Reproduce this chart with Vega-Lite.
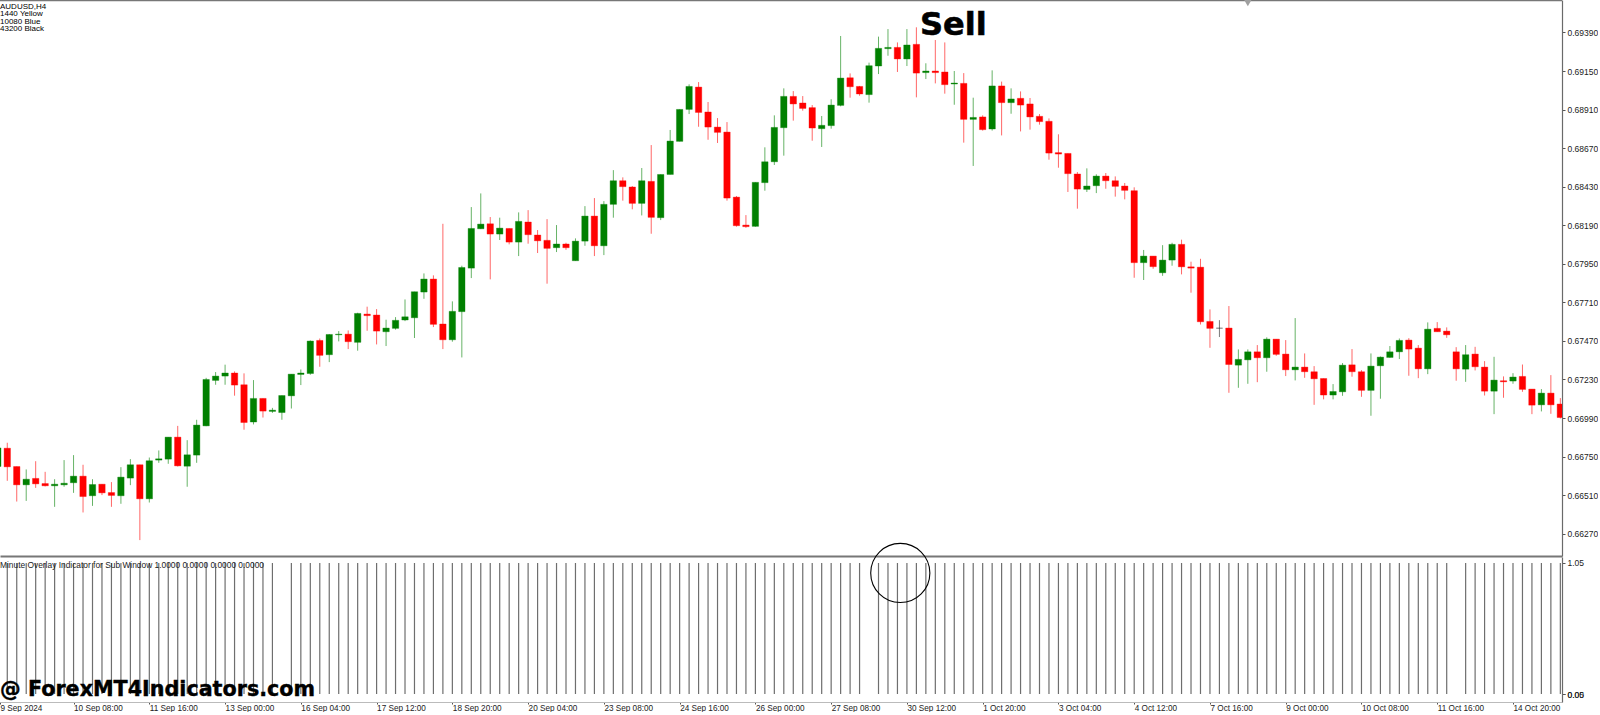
{
  "$schema": "https://vega.github.io/schema/vega-lite/v6.json",
  "background": "white",
  "padding": {"left": -2, "top": -2, "right": 0, "bottom": 0},
  "spacing": 1,
  "bounds": "flush",
  "config": {
    "view": {"stroke": null},
    "font": "Liberation Sans",
    "axis": {"grid": false, "title": null}
  },
  "datasets": {
    "candles": [
      {"bar":0,"open":0.66688,"high":0.66830,"low":0.66670,"close":0.66804,"overlay":1.05},
      {"bar":1,"open":0.66802,"high":0.66836,"low":0.66599,"close":0.66686,"overlay":1.05},
      {"bar":2,"open":0.66688,"high":0.66688,"low":0.66470,"close":0.66574,"overlay":1.05},
      {"bar":3,"open":0.66574,"high":0.66670,"low":0.66474,"close":0.66609,"overlay":1.05},
      {"bar":4,"open":0.66614,"high":0.66721,"low":0.66555,"close":0.66580,"overlay":1.05},
      {"bar":5,"open":0.66582,"high":0.66655,"low":0.66564,"close":0.66568,"overlay":1.05},
      {"bar":6,"open":0.66568,"high":0.66609,"low":0.66437,"close":0.66578,"overlay":1.05},
      {"bar":7,"open":0.66574,"high":0.66728,"low":0.66562,"close":0.66584,"overlay":1.05},
      {"bar":8,"open":0.66587,"high":0.66759,"low":0.66524,"close":0.66628,"overlay":1.05},
      {"bar":9,"open":0.66628,"high":0.66699,"low":0.66402,"close":0.66501,"overlay":1.05},
      {"bar":10,"open":0.66506,"high":0.66609,"low":0.66443,"close":0.66576,"overlay":1.05},
      {"bar":11,"open":0.66578,"high":0.66578,"low":0.66510,"close":0.66524,"overlay":1.05},
      {"bar":12,"open":0.66526,"high":0.66591,"low":0.66437,"close":0.66508,"overlay":1.05},
      {"bar":13,"open":0.66506,"high":0.66684,"low":0.66456,"close":0.66622,"overlay":1.05},
      {"bar":14,"open":0.66616,"high":0.66734,"low":0.66572,"close":0.66699,"overlay":1.05},
      {"bar":15,"open":0.66699,"high":0.66699,"low":0.66230,"close":0.66487,"overlay":1.05},
      {"bar":16,"open":0.66487,"high":0.66744,"low":0.66464,"close":0.66724,"overlay":1.05},
      {"bar":17,"open":0.66728,"high":0.66788,"low":0.66711,"close":0.66736,"overlay":1.05},
      {"bar":18,"open":0.66734,"high":0.66871,"low":0.66705,"close":0.66871,"overlay":1.05},
      {"bar":19,"open":0.66871,"high":0.66941,"low":0.66688,"close":0.66692,"overlay":1.05},
      {"bar":20,"open":0.66690,"high":0.66852,"low":0.66562,"close":0.66761,"overlay":1.05},
      {"bar":21,"open":0.66759,"high":0.66979,"low":0.66711,"close":0.66946,"overlay":1.05},
      {"bar":22,"open":0.66941,"high":0.67240,"low":0.66939,"close":0.67230,"overlay":1.05},
      {"bar":23,"open":0.67224,"high":0.67276,"low":0.67197,"close":0.67251,"overlay":1.05},
      {"bar":24,"open":0.67251,"high":0.67322,"low":0.67197,"close":0.67270,"overlay":1.05},
      {"bar":25,"open":0.67270,"high":0.67280,"low":0.67129,"close":0.67195,"overlay":1.05},
      {"bar":26,"open":0.67197,"high":0.67268,"low":0.66917,"close":0.66962,"overlay":1.05},
      {"bar":27,"open":0.66965,"high":0.67226,"low":0.66950,"close":0.67112,"overlay":1.05},
      {"bar":28,"open":0.67112,"high":0.67112,"low":0.66993,"close":0.67033,"overlay":1.05},
      {"bar":29,"open":0.67031,"high":0.67053,"low":0.67022,"close":0.67039,"overlay":1.05},
      {"bar":30,"open":0.67024,"high":0.67130,"low":0.66979,"close":0.67130,"overlay":0},
      {"bar":31,"open":0.67128,"high":0.67263,"low":0.67049,"close":0.67263,"overlay":1.05},
      {"bar":32,"open":0.67261,"high":0.67292,"low":0.67195,"close":0.67270,"overlay":1.05},
      {"bar":33,"open":0.67267,"high":0.67473,"low":0.67259,"close":0.67469,"overlay":1.05},
      {"bar":34,"open":0.67473,"high":0.67485,"low":0.67309,"close":0.67380,"overlay":1.05},
      {"bar":35,"open":0.67384,"high":0.67512,"low":0.67338,"close":0.67510,"overlay":1.05},
      {"bar":36,"open":0.67508,"high":0.67531,"low":0.67467,"close":0.67512,"overlay":1.05},
      {"bar":37,"open":0.67512,"high":0.67535,"low":0.67419,"close":0.67465,"overlay":1.05},
      {"bar":38,"open":0.67461,"high":0.67645,"low":0.67409,"close":0.67641,"overlay":1.05},
      {"bar":39,"open":0.67637,"high":0.67683,"low":0.67533,"close":0.67627,"overlay":1.05},
      {"bar":40,"open":0.67631,"high":0.67668,"low":0.67448,"close":0.67531,"overlay":1.05},
      {"bar":41,"open":0.67527,"high":0.67602,"low":0.67438,"close":0.67550,"overlay":1.05},
      {"bar":42,"open":0.67548,"high":0.67618,"low":0.67540,"close":0.67598,"overlay":1.05},
      {"bar":43,"open":0.67600,"high":0.67728,"low":0.67593,"close":0.67620,"overlay":1.05},
      {"bar":44,"open":0.67614,"high":0.67776,"low":0.67488,"close":0.67776,"overlay":1.05},
      {"bar":45,"open":0.67774,"high":0.67890,"low":0.67732,"close":0.67855,"overlay":1.05},
      {"bar":46,"open":0.67855,"high":0.67878,"low":0.67556,"close":0.67573,"overlay":1.05},
      {"bar":47,"open":0.67575,"high":0.68199,"low":0.67419,"close":0.67477,"overlay":1.05},
      {"bar":48,"open":0.67477,"high":0.67716,"low":0.67465,"close":0.67654,"overlay":1.05},
      {"bar":49,"open":0.67652,"high":0.67938,"low":0.67367,"close":0.67927,"overlay":1.05},
      {"bar":50,"open":0.67923,"high":0.68303,"low":0.67861,"close":0.68170,"overlay":1.05},
      {"bar":51,"open":0.68168,"high":0.68388,"low":0.68166,"close":0.68197,"overlay":1.05},
      {"bar":52,"open":0.68199,"high":0.68241,"low":0.67853,"close":0.68135,"overlay":1.05},
      {"bar":53,"open":0.68135,"high":0.68237,"low":0.68098,"close":0.68172,"overlay":1.05},
      {"bar":54,"open":0.68170,"high":0.68170,"low":0.68071,"close":0.68085,"overlay":1.05},
      {"bar":55,"open":0.68085,"high":0.68270,"low":0.67998,"close":0.68214,"overlay":1.05},
      {"bar":56,"open":0.68210,"high":0.68284,"low":0.68075,"close":0.68131,"overlay":1.05},
      {"bar":57,"open":0.68129,"high":0.68160,"low":0.68017,"close":0.68093,"overlay":1.05},
      {"bar":58,"open":0.68096,"high":0.68228,"low":0.67826,"close":0.68046,"overlay":1.05},
      {"bar":59,"open":0.68050,"high":0.68191,"low":0.68023,"close":0.68073,"overlay":1.05},
      {"bar":60,"open":0.68073,"high":0.68081,"low":0.68037,"close":0.68050,"overlay":1.05},
      {"bar":61,"open":0.67969,"high":0.68108,"low":0.67969,"close":0.68091,"overlay":1.05},
      {"bar":62,"open":0.68091,"high":0.68309,"low":0.68062,"close":0.68247,"overlay":1.05},
      {"bar":63,"open":0.68247,"high":0.68359,"low":0.67998,"close":0.68062,"overlay":1.05},
      {"bar":64,"open":0.68062,"high":0.68340,"low":0.68004,"close":0.68320,"overlay":1.05},
      {"bar":65,"open":0.68320,"high":0.68533,"low":0.68237,"close":0.68467,"overlay":1.05},
      {"bar":66,"open":0.68467,"high":0.68488,"low":0.68343,"close":0.68430,"overlay":1.05},
      {"bar":67,"open":0.68428,"high":0.68434,"low":0.68289,"close":0.68326,"overlay":1.05},
      {"bar":68,"open":0.68326,"high":0.68546,"low":0.68251,"close":0.68467,"overlay":1.05},
      {"bar":69,"open":0.68463,"high":0.68689,"low":0.68137,"close":0.68239,"overlay":1.05},
      {"bar":70,"open":0.68237,"high":0.68506,"low":0.68222,"close":0.68506,"overlay":1.05},
      {"bar":71,"open":0.68506,"high":0.68783,"low":0.68506,"close":0.68714,"overlay":1.05},
      {"bar":72,"open":0.68712,"high":0.68911,"low":0.68712,"close":0.68911,"overlay":1.05},
      {"bar":73,"open":0.68911,"high":0.69067,"low":0.68882,"close":0.69054,"overlay":1.05},
      {"bar":74,"open":0.69050,"high":0.69081,"low":0.68803,"close":0.68892,"overlay":1.05},
      {"bar":75,"open":0.68895,"high":0.68957,"low":0.68722,"close":0.68801,"overlay":1.05},
      {"bar":76,"open":0.68801,"high":0.68857,"low":0.68702,"close":0.68768,"overlay":1.05},
      {"bar":77,"open":0.68770,"high":0.68832,"low":0.68343,"close":0.68359,"overlay":1.05},
      {"bar":78,"open":0.68365,"high":0.68372,"low":0.68181,"close":0.68187,"overlay":1.05},
      {"bar":79,"open":0.68191,"high":0.68253,"low":0.68174,"close":0.68181,"overlay":1.05},
      {"bar":80,"open":0.68183,"high":0.68457,"low":0.68181,"close":0.68457,"overlay":1.05},
      {"bar":81,"open":0.68455,"high":0.68675,"low":0.68405,"close":0.68585,"overlay":1.05},
      {"bar":82,"open":0.68585,"high":0.68874,"low":0.68565,"close":0.68799,"overlay":1.05},
      {"bar":83,"open":0.68797,"high":0.69042,"low":0.68623,"close":0.68992,"overlay":1.05},
      {"bar":84,"open":0.68992,"high":0.69025,"low":0.68841,"close":0.68945,"overlay":1.05},
      {"bar":85,"open":0.68951,"high":0.68994,"low":0.68903,"close":0.68917,"overlay":1.05},
      {"bar":86,"open":0.68922,"high":0.68938,"low":0.68716,"close":0.68795,"overlay":1.05},
      {"bar":87,"open":0.68791,"high":0.68870,"low":0.68677,"close":0.68812,"overlay":1.05},
      {"bar":88,"open":0.68810,"high":0.68974,"low":0.68791,"close":0.68938,"overlay":1.05},
      {"bar":89,"open":0.68936,"high":0.69368,"low":0.68930,"close":0.69106,"overlay":1.05},
      {"bar":90,"open":0.69108,"high":0.69135,"low":0.68984,"close":0.69052,"overlay":1.05},
      {"bar":91,"open":0.69054,"high":0.69057,"low":0.68996,"close":0.69007,"overlay":1.05},
      {"bar":92,"open":0.69003,"high":0.69202,"low":0.68953,"close":0.69183,"overlay":0},
      {"bar":93,"open":0.69181,"high":0.69364,"low":0.69131,"close":0.69291,"overlay":1.05},
      {"bar":94,"open":0.69289,"high":0.69411,"low":0.69245,"close":0.69297,"overlay":1.05},
      {"bar":95,"open":0.69297,"high":0.69328,"low":0.69144,"close":0.69225,"overlay":1.05},
      {"bar":96,"open":0.69225,"high":0.69411,"low":0.69181,"close":0.69312,"overlay":1.05},
      {"bar":97,"open":0.69316,"high":0.69422,"low":0.68986,"close":0.69137,"overlay":1.05},
      {"bar":98,"open":0.69140,"high":0.69198,"low":0.69100,"close":0.69150,"overlay":1.05},
      {"bar":99,"open":0.69150,"high":0.69343,"low":0.69073,"close":0.69140,"overlay":1.05},
      {"bar":100,"open":0.69144,"high":0.69328,"low":0.69009,"close":0.69065,"overlay":1.05},
      {"bar":101,"open":0.69069,"high":0.69150,"low":0.68940,"close":0.69075,"overlay":1.05},
      {"bar":102,"open":0.69073,"high":0.69137,"low":0.68704,"close":0.68849,"overlay":1.05},
      {"bar":103,"open":0.68849,"high":0.68984,"low":0.68559,"close":0.68861,"overlay":1.05},
      {"bar":104,"open":0.68864,"high":0.68874,"low":0.68779,"close":0.68785,"overlay":1.05},
      {"bar":105,"open":0.68789,"high":0.69154,"low":0.68779,"close":0.69057,"overlay":1.05},
      {"bar":106,"open":0.69057,"high":0.69084,"low":0.68749,"close":0.68953,"overlay":1.05},
      {"bar":107,"open":0.68953,"high":0.69042,"low":0.68884,"close":0.68976,"overlay":1.05},
      {"bar":108,"open":0.68980,"high":0.69023,"low":0.68774,"close":0.68938,"overlay":1.05},
      {"bar":109,"open":0.68945,"high":0.68982,"low":0.68785,"close":0.68864,"overlay":1.05},
      {"bar":110,"open":0.68868,"high":0.68882,"low":0.68816,"close":0.68835,"overlay":1.05},
      {"bar":111,"open":0.68837,"high":0.68855,"low":0.68598,"close":0.68639,"overlay":1.05},
      {"bar":112,"open":0.68642,"high":0.68756,"low":0.68548,"close":0.68633,"overlay":1.05},
      {"bar":113,"open":0.68637,"high":0.68637,"low":0.68397,"close":0.68511,"overlay":1.05},
      {"bar":114,"open":0.68509,"high":0.68521,"low":0.68293,"close":0.68415,"overlay":1.05},
      {"bar":115,"open":0.68413,"high":0.68544,"low":0.68397,"close":0.68434,"overlay":1.05},
      {"bar":116,"open":0.68436,"high":0.68507,"low":0.68390,"close":0.68496,"overlay":1.05},
      {"bar":117,"open":0.68496,"high":0.68515,"low":0.68417,"close":0.68467,"overlay":1.05},
      {"bar":118,"open":0.68467,"high":0.68494,"low":0.68368,"close":0.68432,"overlay":1.05},
      {"bar":119,"open":0.68434,"high":0.68453,"low":0.68351,"close":0.68407,"overlay":1.05},
      {"bar":120,"open":0.68405,"high":0.68426,"low":0.67863,"close":0.67957,"overlay":1.05},
      {"bar":121,"open":0.67957,"high":0.68036,"low":0.67849,"close":0.67998,"overlay":1.05},
      {"bar":122,"open":0.67998,"high":0.67998,"low":0.67919,"close":0.67932,"overlay":1.05},
      {"bar":123,"open":0.67894,"high":0.68066,"low":0.67875,"close":0.67973,"overlay":1.05},
      {"bar":124,"open":0.67973,"high":0.68081,"low":0.67938,"close":0.68071,"overlay":1.05},
      {"bar":125,"open":0.68071,"high":0.68100,"low":0.67884,"close":0.67931,"overlay":1.05},
      {"bar":126,"open":0.67931,"high":0.67963,"low":0.67770,"close":0.67923,"overlay":1.05},
      {"bar":127,"open":0.67929,"high":0.67981,"low":0.67572,"close":0.67589,"overlay":1.05},
      {"bar":128,"open":0.67591,"high":0.67666,"low":0.67427,"close":0.67548,"overlay":1.05},
      {"bar":129,"open":0.67549,"high":0.67599,"low":0.67494,"close":0.67549,"overlay":1.05},
      {"bar":130,"open":0.67550,"high":0.67687,"low":0.67147,"close":0.67323,"overlay":1.05},
      {"bar":131,"open":0.67319,"high":0.67417,"low":0.67178,"close":0.67355,"overlay":1.05},
      {"bar":132,"open":0.67352,"high":0.67417,"low":0.67203,"close":0.67402,"overlay":1.05},
      {"bar":133,"open":0.67402,"high":0.67444,"low":0.67213,"close":0.67365,"overlay":1.05},
      {"bar":134,"open":0.67365,"high":0.67492,"low":0.67278,"close":0.67481,"overlay":1.05},
      {"bar":135,"open":0.67481,"high":0.67481,"low":0.67377,"close":0.67386,"overlay":1.05},
      {"bar":136,"open":0.67388,"high":0.67475,"low":0.67251,"close":0.67290,"overlay":1.05},
      {"bar":137,"open":0.67290,"high":0.67612,"low":0.67224,"close":0.67307,"overlay":1.05},
      {"bar":138,"open":0.67307,"high":0.67392,"low":0.67240,"close":0.67278,"overlay":1.05},
      {"bar":139,"open":0.67278,"high":0.67313,"low":0.67072,"close":0.67234,"overlay":1.05},
      {"bar":140,"open":0.67236,"high":0.67236,"low":0.67106,"close":0.67133,"overlay":1.05},
      {"bar":141,"open":0.67133,"high":0.67201,"low":0.67106,"close":0.67155,"overlay":1.05},
      {"bar":142,"open":0.67153,"high":0.67332,"low":0.67128,"close":0.67319,"overlay":1.05},
      {"bar":143,"open":0.67321,"high":0.67419,"low":0.67247,"close":0.67278,"overlay":1.05},
      {"bar":144,"open":0.67278,"high":0.67288,"low":0.67122,"close":0.67162,"overlay":1.05},
      {"bar":145,"open":0.67162,"high":0.67392,"low":0.67004,"close":0.67313,"overlay":1.05},
      {"bar":146,"open":0.67315,"high":0.67373,"low":0.67110,"close":0.67369,"overlay":1.05},
      {"bar":147,"open":0.67367,"high":0.67438,"low":0.67365,"close":0.67402,"overlay":1.05},
      {"bar":148,"open":0.67402,"high":0.67485,"low":0.67357,"close":0.67473,"overlay":1.05},
      {"bar":149,"open":0.67475,"high":0.67487,"low":0.67253,"close":0.67419,"overlay":1.05},
      {"bar":150,"open":0.67425,"high":0.67444,"low":0.67238,"close":0.67296,"overlay":1.05},
      {"bar":151,"open":0.67296,"high":0.67585,"low":0.67263,"close":0.67543,"overlay":1.05},
      {"bar":152,"open":0.67548,"high":0.67587,"low":0.67527,"close":0.67527,"overlay":1.05},
      {"bar":153,"open":0.67531,"high":0.67554,"low":0.67489,"close":0.67508,"overlay":1.05},
      {"bar":154,"open":0.67402,"high":0.67431,"low":0.67222,"close":0.67296,"overlay":0},
      {"bar":155,"open":0.67294,"high":0.67444,"low":0.67215,"close":0.67384,"overlay":1.05},
      {"bar":156,"open":0.67388,"high":0.67433,"low":0.67286,"close":0.67309,"overlay":1.05},
      {"bar":157,"open":0.67307,"high":0.67344,"low":0.67130,"close":0.67157,"overlay":1.05},
      {"bar":158,"open":0.67157,"high":0.67371,"low":0.67014,"close":0.67226,"overlay":1.05},
      {"bar":159,"open":0.67222,"high":0.67249,"low":0.67116,"close":0.67215,"overlay":1.05},
      {"bar":160,"open":0.67220,"high":0.67269,"low":0.67203,"close":0.67245,"overlay":1.05},
      {"bar":161,"open":0.67249,"high":0.67323,"low":0.67153,"close":0.67168,"overlay":1.05},
      {"bar":162,"open":0.67170,"high":0.67170,"low":0.67014,"close":0.67070,"overlay":1.05},
      {"bar":163,"open":0.67072,"high":0.67170,"low":0.67031,"close":0.67145,"overlay":1.05},
      {"bar":164,"open":0.67145,"high":0.67257,"low":0.67016,"close":0.67072,"overlay":1.05},
      {"bar":165,"open":0.67077,"high":0.67114,"low":0.66987,"close":0.66993,"overlay":1.05}
    ],
    "infoLines": [
      {"bar":0.232,"price":0.69548,"label":"AUDUSD,H4"},
      {"bar":0.232,"price":0.69502,"label":"1440 Yellow"},
      {"bar":0.232,"price":0.69457,"label":"10080 Blue"},
      {"bar":0.232,"price":0.69411,"label":"43200 Black"}
    ]
  },
  "vconcat": [
    {
      "width": 1562,
      "height": 556,
      "data": {"name": "candles"},
      "encoding": {
        "x": {
          "field": "bar",
          "type": "quantitative",
          "scale": {"domain": [0.232, 165.175], "nice": false, "zero": false, "padding": 0},
          "axis": {"labels": false, "ticks": false, "domainColor": "#777777", "domainWidth": 2}
        }
      },
      "layer": [
        {
          "mark": {"type": "rule", "strokeWidth": 1, "opacity": 0.6, "clip": true},
          "encoding": {
            "y": {
              "field": "low",
              "type": "quantitative",
              "scale": {"domain": [0.66131, 0.69592], "nice": false, "zero": false},
              "axis": {
                "orient": "right",
                "values": [0.6627, 0.6651, 0.6675, 0.6699, 0.6723, 0.6747, 0.6771, 0.6795, 0.6819, 0.6843, 0.6867, 0.6891, 0.6915, 0.6939],
                "format": ".5f",
                "tickSize": 3,
                "tickColor": "#555555",
                "domainColor": "#6a6a6a",
                "domainWidth": 1.2,
                "labelColor": "#222222",
                "labelFontSize": 8.5,
                "labelPadding": 2,
                "labelOverlap": false,
                "labelBound": false,
                "labelFlush": false
              }
            },
            "y2": {"field": "high"},
            "color": {
              "condition": [
                {"test": "datum.close > datum.open", "value": "#008000"},
                {"test": "datum.close < datum.open", "value": "#ff0000"}
              ],
              "value": "#222222"
            }
          }
        },
        {
          "mark": {"type": "bar", "size": 6.4, "clip": true, "strokeWidth": 0.8, "strokeOpacity": 0.45},
          "encoding": {
            "y": {"field": "open", "type": "quantitative"},
            "y2": {"field": "close"},
            "color": {
              "condition": [
                {"test": "datum.close > datum.open", "value": "#008000"},
                {"test": "datum.close < datum.open", "value": "#ff0000"}
              ],
              "value": "#222222"
            },
            "stroke": {
              "condition": [
                {"test": "datum.close > datum.open", "value": "#008000"},
                {"test": "datum.close < datum.open", "value": "#ff0000"}
              ],
              "value": "#222222"
            }
          }
        },
        {
          "data": {"values": [{"price": 0.69592}]},
          "mark": {"type": "rule", "color": "#777777", "strokeWidth": 2.4},
          "encoding": {"x": null, "y": {"field": "price", "type": "quantitative"}}
        },
        {
          "data": {"values": [{"bar": 132, "price": 0.69574}]},
          "mark": {"type": "point", "shape": "triangle-down", "size": 60, "filled": true, "color": "#a0a0a0", "opacity": 1},
          "encoding": {
            "x": {"field": "bar", "type": "quantitative", "scale": {"domain": [0.232, 165.175], "nice": false, "zero": false, "padding": 0}},
            "y": {"field": "price", "type": "quantitative"}
          }
        },
        {
          "data": {"name": "infoLines"},
          "mark": {"type": "text", "align": "left", "baseline": "middle", "fontSize": 8, "color": "#000000"},
          "encoding": {
            "x": {"field": "bar", "type": "quantitative", "scale": {"domain": [0.232, 165.175], "nice": false, "zero": false, "padding": 0}},
            "y": {"field": "price", "type": "quantitative"},
            "text": {"field": "label"}
          }
        },
        {
          "data": {"values": [{"bar": 100.9, "price": 0.69439, "label": "Sell"}]},
          "mark": {"type": "text", "align": "center", "baseline": "middle", "font": "DejaVu Sans", "fontWeight": "bold", "fontSize": 32, "color": "#000000", "stroke": "#000000", "strokeWidth": 0.6},
          "encoding": {
            "x": {"field": "bar", "type": "quantitative", "scale": {"domain": [0.232, 165.175], "nice": false, "zero": false, "padding": 0}},
            "y": {"field": "price", "type": "quantitative"},
            "text": {"field": "label"}
          }
        }
      ]
    },
    {
      "width": 1562,
      "height": 145,
      "data": {"name": "candles"},
      "layer": [
        {
          "transform": [{"filter": "datum.overlay > 0"}],
          "mark": {"type": "rule", "color": "#6e6e6e", "strokeWidth": 1.2, "clip": true},
          "encoding": {
            "x": {
              "field": "bar",
              "type": "quantitative",
              "scale": {"domain": [0.232, 165.175], "nice": false, "zero": false},
              "axis": {
                "values": [0.232, 8, 16, 24, 32, 40, 48, 56, 64, 72, 80, 88, 96, 104, 112, 120, 128, 136, 144, 152, 160],
                "labelExpr": "{'0.232':'9 Sep 2024','8':'10 Sep 08:00','16':'11 Sep 16:00','24':'13 Sep 00:00','32':'16 Sep 04:00','40':'17 Sep 12:00','48':'18 Sep 20:00','56':'20 Sep 04:00','64':'23 Sep 08:00','72':'24 Sep 16:00','80':'26 Sep 00:00','88':'27 Sep 08:00','96':'30 Sep 12:00','104':'1 Oct 20:00','112':'3 Oct 04:00','120':'4 Oct 12:00','128':'7 Oct 16:00','136':'9 Oct 00:00','144':'10 Oct 08:00','152':'11 Oct 16:00','160':'14 Oct 20:00'}[datum.value]",
                "labelAlign": "left",
                "labelBaseline": "middle",
                "labelPadding": 4,
                "labelFontSize": 8.2,
                "labelColor": "#222222",
                "labelOverlap": false,
                "labelBound": false,
                "labelFlush": false,
                "tickSize": 2,
                "tickColor": "#555555",
                "domainColor": "#bbbbbb"
              }
            },
            "y": {
              "field": "overlay",
              "type": "quantitative",
              "scale": {"domain": [-0.064, 1.098], "nice": false, "zero": false},
              "axis": {
                "orient": "right",
                "values": [1.05, 0, 0.0001],
                "labelExpr": "datum.value == 1.05 ? '1.05' : datum.value == 0 ? '0.00' : '0.05'",
                "tickSize": 3,
                "tickColor": "#555555",
                "domainColor": "#6a6a6a",
                "domainWidth": 1.2,
                "labelColor": "#222222",
                "labelFontSize": 8.5,
                "labelPadding": 2,
                "labelOverlap": false,
                "labelBound": false,
                "labelFlush": false
              }
            },
            "y2": {"datum": 0}
          }
        },
        {
          "data": {"values": [{"bar": 0.232, "value": 1.034, "label": "Minute Overlay Indicator for Sub Window 1.0000 0.0000 0.0000 0.0000"}]},
          "mark": {"type": "text", "align": "left", "baseline": "middle", "fontSize": 8.4, "color": "#222222"},
          "encoding": {
            "x": {"field": "bar", "type": "quantitative", "scale": {"domain": [0.232, 165.175], "nice": false, "zero": false}},
            "y": {"field": "value", "type": "quantitative"},
            "text": {"field": "label"}
          }
        },
        {
          "data": {"values": [{"bar": 0.232, "value": 0.03, "label": "@ ForexMT4Indicators.com"}]},
          "mark": {"type": "text", "align": "left", "baseline": "middle", "font": "DejaVu Sans", "fontWeight": "bold", "fontSize": 20.7, "color": "#000000", "stroke": "#000000", "strokeWidth": 0.4},
          "encoding": {
            "x": {"field": "bar", "type": "quantitative", "scale": {"domain": [0.232, 165.175], "nice": false, "zero": false}},
            "y": {"field": "value", "type": "quantitative"},
            "text": {"field": "label"}
          }
        },
        {
          "data": {"values": [{"bar": 95.3, "value": 0.97}]},
          "mark": {"type": "point", "shape": "circle", "size": 3500, "filled": false, "color": "#000000", "strokeWidth": 1.1, "opacity": 1},
          "encoding": {
            "x": {"field": "bar", "type": "quantitative", "scale": {"domain": [0.232, 165.175], "nice": false, "zero": false}},
            "y": {"field": "value", "type": "quantitative"}
          }
        }
      ]
    }
  ]
}
